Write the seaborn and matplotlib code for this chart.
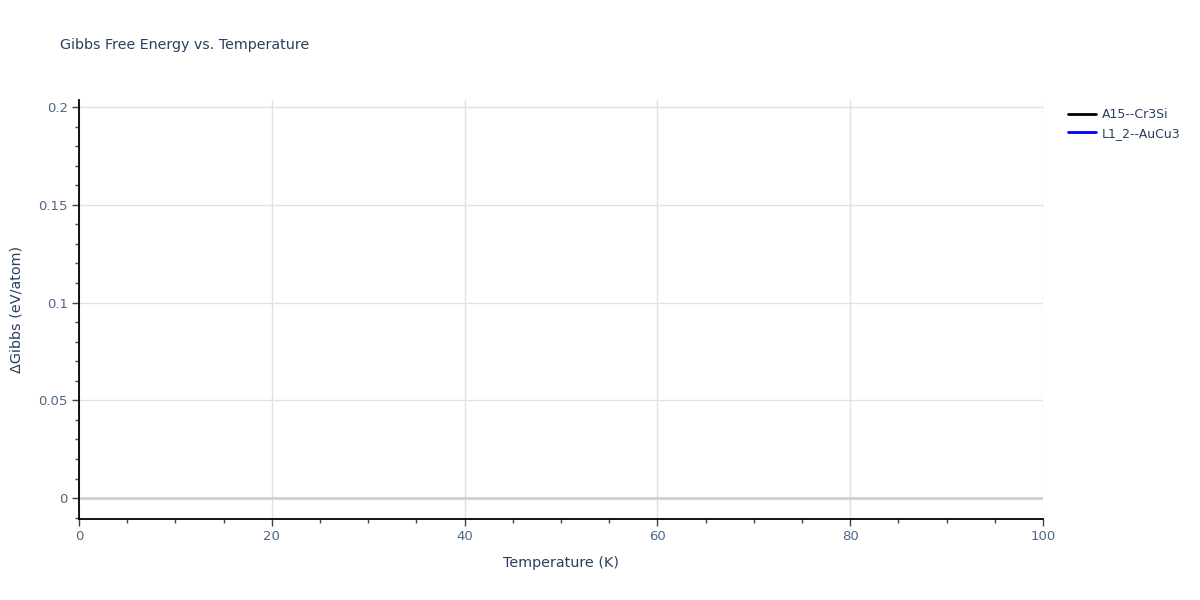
import numpy as np
import pandas as pd
import matplotlib
matplotlib.use("Agg")
import matplotlib.pyplot as plt
from matplotlib.ticker import MultipleLocator
from matplotlib.lines import Line2D
import seaborn as sns

# series shown in the legend; no points are visible inside the plotted range
series_names = ["A15--Cr3Si", "L1_2--AuCu3"]
series_colors = ["black", "blue"]
temperature_k = []
a15_gibbs = []
l12_gibbs = []

x_ticks = [0, 20, 40, 60, 80, 100]
y_ticks = [0, 0.05, 0.1, 0.15, 0.2]
y_tick_labels = ["0", "0.05", "0.1", "0.15", "0.2"]

sns.set_theme(style="white")
plt.rcParams['font.family'] = ['DejaVu Sans']
text_col = "#2a3f5f"
tick_col = "#506784"

fig = plt.figure(figsize=(12, 6), dpi=100)
ax = fig.add_axes([79/1200, 1-519/600, (1043-79)/1200, (519-100)/600])

df = pd.DataFrame({
    "T": list(temperature_k) * 2,
    "G": list(a15_gibbs) + list(l12_gibbs),
    "phase": [series_names[0]] * len(a15_gibbs) + [series_names[1]] * len(l12_gibbs),
})
if len(df):
    sns.lineplot(data=df, x="T", y="G", hue="phase", palette=series_colors, ax=ax, legend=False)

ax.set_xlim(0, 100)
ax.set_ylim(-0.0107, 0.2036)
ax.set_xticks(x_ticks)
ax.set_yticks(y_ticks)
ax.set_yticklabels(y_tick_labels)
ax.xaxis.set_minor_locator(MultipleLocator(5))
ax.yaxis.set_minor_locator(MultipleLocator(0.01))

ax.grid(True, which="major", color="#e1e1e1", linewidth=1)
ax.axhline(0, color="#cfcfcf", linewidth=2, zorder=1)
for s in ["top", "right"]:
    ax.spines[s].set_visible(False)
for s in ["left", "bottom"]:
    ax.spines[s].set_color("black")
    ax.spines[s].set_linewidth(1.3)

ax.tick_params(which="major", direction="out", length=5, width=1, color="#444444",
               labelsize=9.5, labelcolor=tick_col, left=True, bottom=True, pad=3)
ax.tick_params(which="minor", direction="out", length=3, width=1, color="#444444",
               left=True, bottom=True)

ax.set_xlabel("Temperature (K)", fontsize=10.4, color=text_col, labelpad=9)
ax.set_ylabel("ΔGibbs (eV/atom)", fontsize=10.4, color=text_col, labelpad=11)
fig.text(60/1200, 1-45/600, "Gibbs Free Energy vs. Temperature", fontsize=10.3,
         color=text_col, va="center", ha="left")

handles = [Line2D([0], [0], color=c, linewidth=2) for c in series_colors]
leg = fig.legend(handles, series_names, loc="upper left", bbox_to_anchor=(1063/1200, 1-103/600),
                 frameon=False, fontsize=9, handlelength=2.2, handletextpad=0.5,
                 labelspacing=0.45, borderaxespad=0)
for t in leg.get_texts():
    t.set_color(text_col)

fig.savefig("out.png", dpi=100)
